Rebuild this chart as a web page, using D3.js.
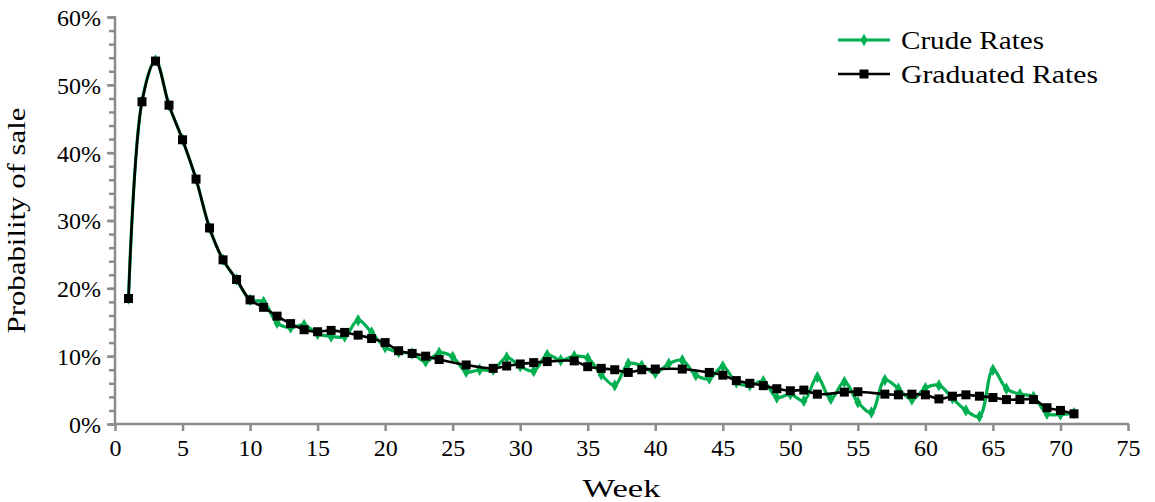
<!DOCTYPE html>
<html><head><meta charset="utf-8">
<script src="https://cdn.jsdelivr.net/npm/d3@7"></script>
<style>
html,body{margin:0;padding:0;background:#fff;}
svg text{font-family:"Liberation Serif","DejaVu Serif",serif;fill:#000;}
</style></head>
<body><svg id="c" width="1155" height="502"></svg>
<script>
const weeks = d3.range(1, 72);
const crudeRates = [18.5,47.6,53.6,47.0,41.9,36.1,28.9,24.2,21.3,18.3,
  18.0,14.9,14.2,14.6,13.3,12.9,12.9,15.3,13.5,11.3,
  10.6,10.4,9.2,10.5,9.9,7.7,8.0,8.0,9.8,8.5,
  7.8,10.2,9.4,10.0,9.7,7.3,5.7,8.9,8.6,7.5,
  8.9,9.4,7.2,6.7,8.5,6.1,5.7,6.3,3.9,4.4,
  3.4,6.9,3.7,6.2,3.2,1.7,6.5,5.2,3.6,5.3,
  5.7,3.8,2.0,1.1,8.0,5.2,4.4,4.0,1.5,1.4,1.6];
const gradRates = [18.5,47.5,53.5,47.0,41.9,36.1,28.9,24.2,21.3,18.3,
  17.2,15.9,14.8,13.9,13.6,13.8,13.5,13.1,12.6,12.0,
  10.8,10.4,10.0,9.5,null,8.7,null,8.2,8.55,8.85,
  9.05,9.2,null,9.3,8.45,8.2,8.0,7.6,8.0,8.1,
  null,8.1,null,7.6,7.2,6.4,6.0,5.65,5.2,4.9,
  5.0,4.4,null,4.7,4.75,null,4.4,4.3,4.4,4.3,
  3.7,4.1,4.3,4.1,3.9,3.6,3.6,3.6,2.4,2.0,1.5];
const xTicks = d3.range(0, 80, 5);
const yTicks = d3.range(0, 70, 10);
const yMinorTicks = d3.range(0, 62, 2);
const seriesNames = ["Crude Rates", "Graduated Rates"];
const seriesColors = ["#00B050", "#000000"];

const svg = d3.select("#c");
const x = d3.scaleLinear().domain([0, 75]).range([115, 1128]);
const y = d3.scaleLinear().domain([0, 60]).range([424, 17]);
const axisColor = "#8c8c8c";

// y axis
const gy = svg.append("g").attr("transform", `translate(${x(0)},0)`);
gy.call(d3.axisLeft(y).tickValues(yMinorTicks).tickSize(6).tickFormat(""));
gy.select(".domain").remove();
gy.selectAll(".tick line").attr("stroke", axisColor).attr("stroke-width", 2.5);
const gy2 = svg.append("g").attr("transform", `translate(${x(0)},0)`);
gy2.call(d3.axisLeft(y).tickValues(yTicks).tickSize(8).tickPadding(6).tickFormat(d => d + "%"));
gy2.select(".domain").attr("stroke", axisColor).attr("stroke-width", 2.5).attr("d", `M0,${y(0)+1}V${y(60)-1}`);
gy2.selectAll(".tick line").attr("stroke", axisColor).attr("stroke-width", 2.5);
gy2.selectAll(".tick text").attr("font-size", 24).attr("dy", "0.35em");

// x axis
const gx = svg.append("g").attr("transform", `translate(0,${y(0)})`);
gx.call(d3.axisBottom(x).tickValues(xTicks).tickSize(7).tickPadding(8).tickFormat(d3.format("d")));
gx.select(".domain").attr("stroke", axisColor).attr("stroke-width", 2.5).attr("d", `M${x(0)-1},0H${x(75)+1}`);
gx.selectAll(".tick line").attr("stroke", axisColor).attr("stroke-width", 2.5);
gx.selectAll(".tick text").attr("font-size", 24);

// titles
svg.append("text").attr("x", (x(0)+x(75))/2).attr("y", 497).attr("text-anchor", "middle")
  .attr("font-size", 26).attr("textLength", 78).attr("lengthAdjust", "spacingAndGlyphs").text("Week");
svg.append("text").attr("transform", `translate(25,${(y(0)+y(60))/2}) rotate(-90)`)
  .attr("text-anchor", "middle").attr("font-size", 26)
  .attr("textLength", 226).attr("lengthAdjust", "spacingAndGlyphs").text("Probability of sale");

const curve = d3.curveCatmullRom.alpha(0.5);
const crudeData = weeks.map((w, i) => ({w, v: crudeRates[i]}));
const gradData = weeks.map((w, i) => ({w, v: gradRates[i]})).filter(d => d.v != null);
const line = d3.line().x(d => x(d.w)).y(d => y(d.v)).curve(curve);

const diamond = d3.symbol().type(d3.symbolDiamond).size(44);
// crude
svg.append("path").datum(crudeData).attr("d", line).attr("fill", "none")
  .attr("stroke", seriesColors[0]).attr("stroke-width", 3.2).attr("stroke-linejoin", "round");
svg.append("g").selectAll("path").data(crudeData).join("path")
  .attr("transform", d => `translate(${x(d.w)},${y(d.v)})`).attr("d", diamond).attr("fill", seriesColors[0]);
// graduated
svg.append("path").datum(gradData).attr("d", line).attr("fill", "none")
  .attr("stroke", seriesColors[1]).attr("stroke-width", 2.6).attr("stroke-linejoin", "round");
svg.append("g").selectAll("rect").data(gradData).join("rect")
  .attr("x", d => x(d.w) - 4.5).attr("y", d => y(d.v) - 4.5).attr("width", 9).attr("height", 9)
  .attr("fill", seriesColors[1]);

// legend
const legendWidths = [143, 197];
const lg = svg.append("g");
seriesNames.forEach((name, i) => {
  const ly = 40 + i * 34;
  lg.append("line").attr("x1", 838).attr("x2", 890).attr("y1", ly).attr("y2", ly)
    .attr("stroke", seriesColors[i]).attr("stroke-width", i === 0 ? 3.2 : 2.6);
  if (i === 0) lg.append("path").attr("transform", `translate(864,${ly})`).attr("d", diamond).attr("fill", seriesColors[0]);
  else lg.append("rect").attr("x", 864 - 4.5).attr("y", ly - 4.5).attr("width", 9).attr("height", 9).attr("fill", "#000");
  lg.append("text").attr("x", 901).attr("y", ly).attr("dy", "0.35em").attr("font-size", 26)
    .attr("textLength", legendWidths[i]).attr("lengthAdjust", "spacingAndGlyphs").text(name);
});
</script></body></html>
